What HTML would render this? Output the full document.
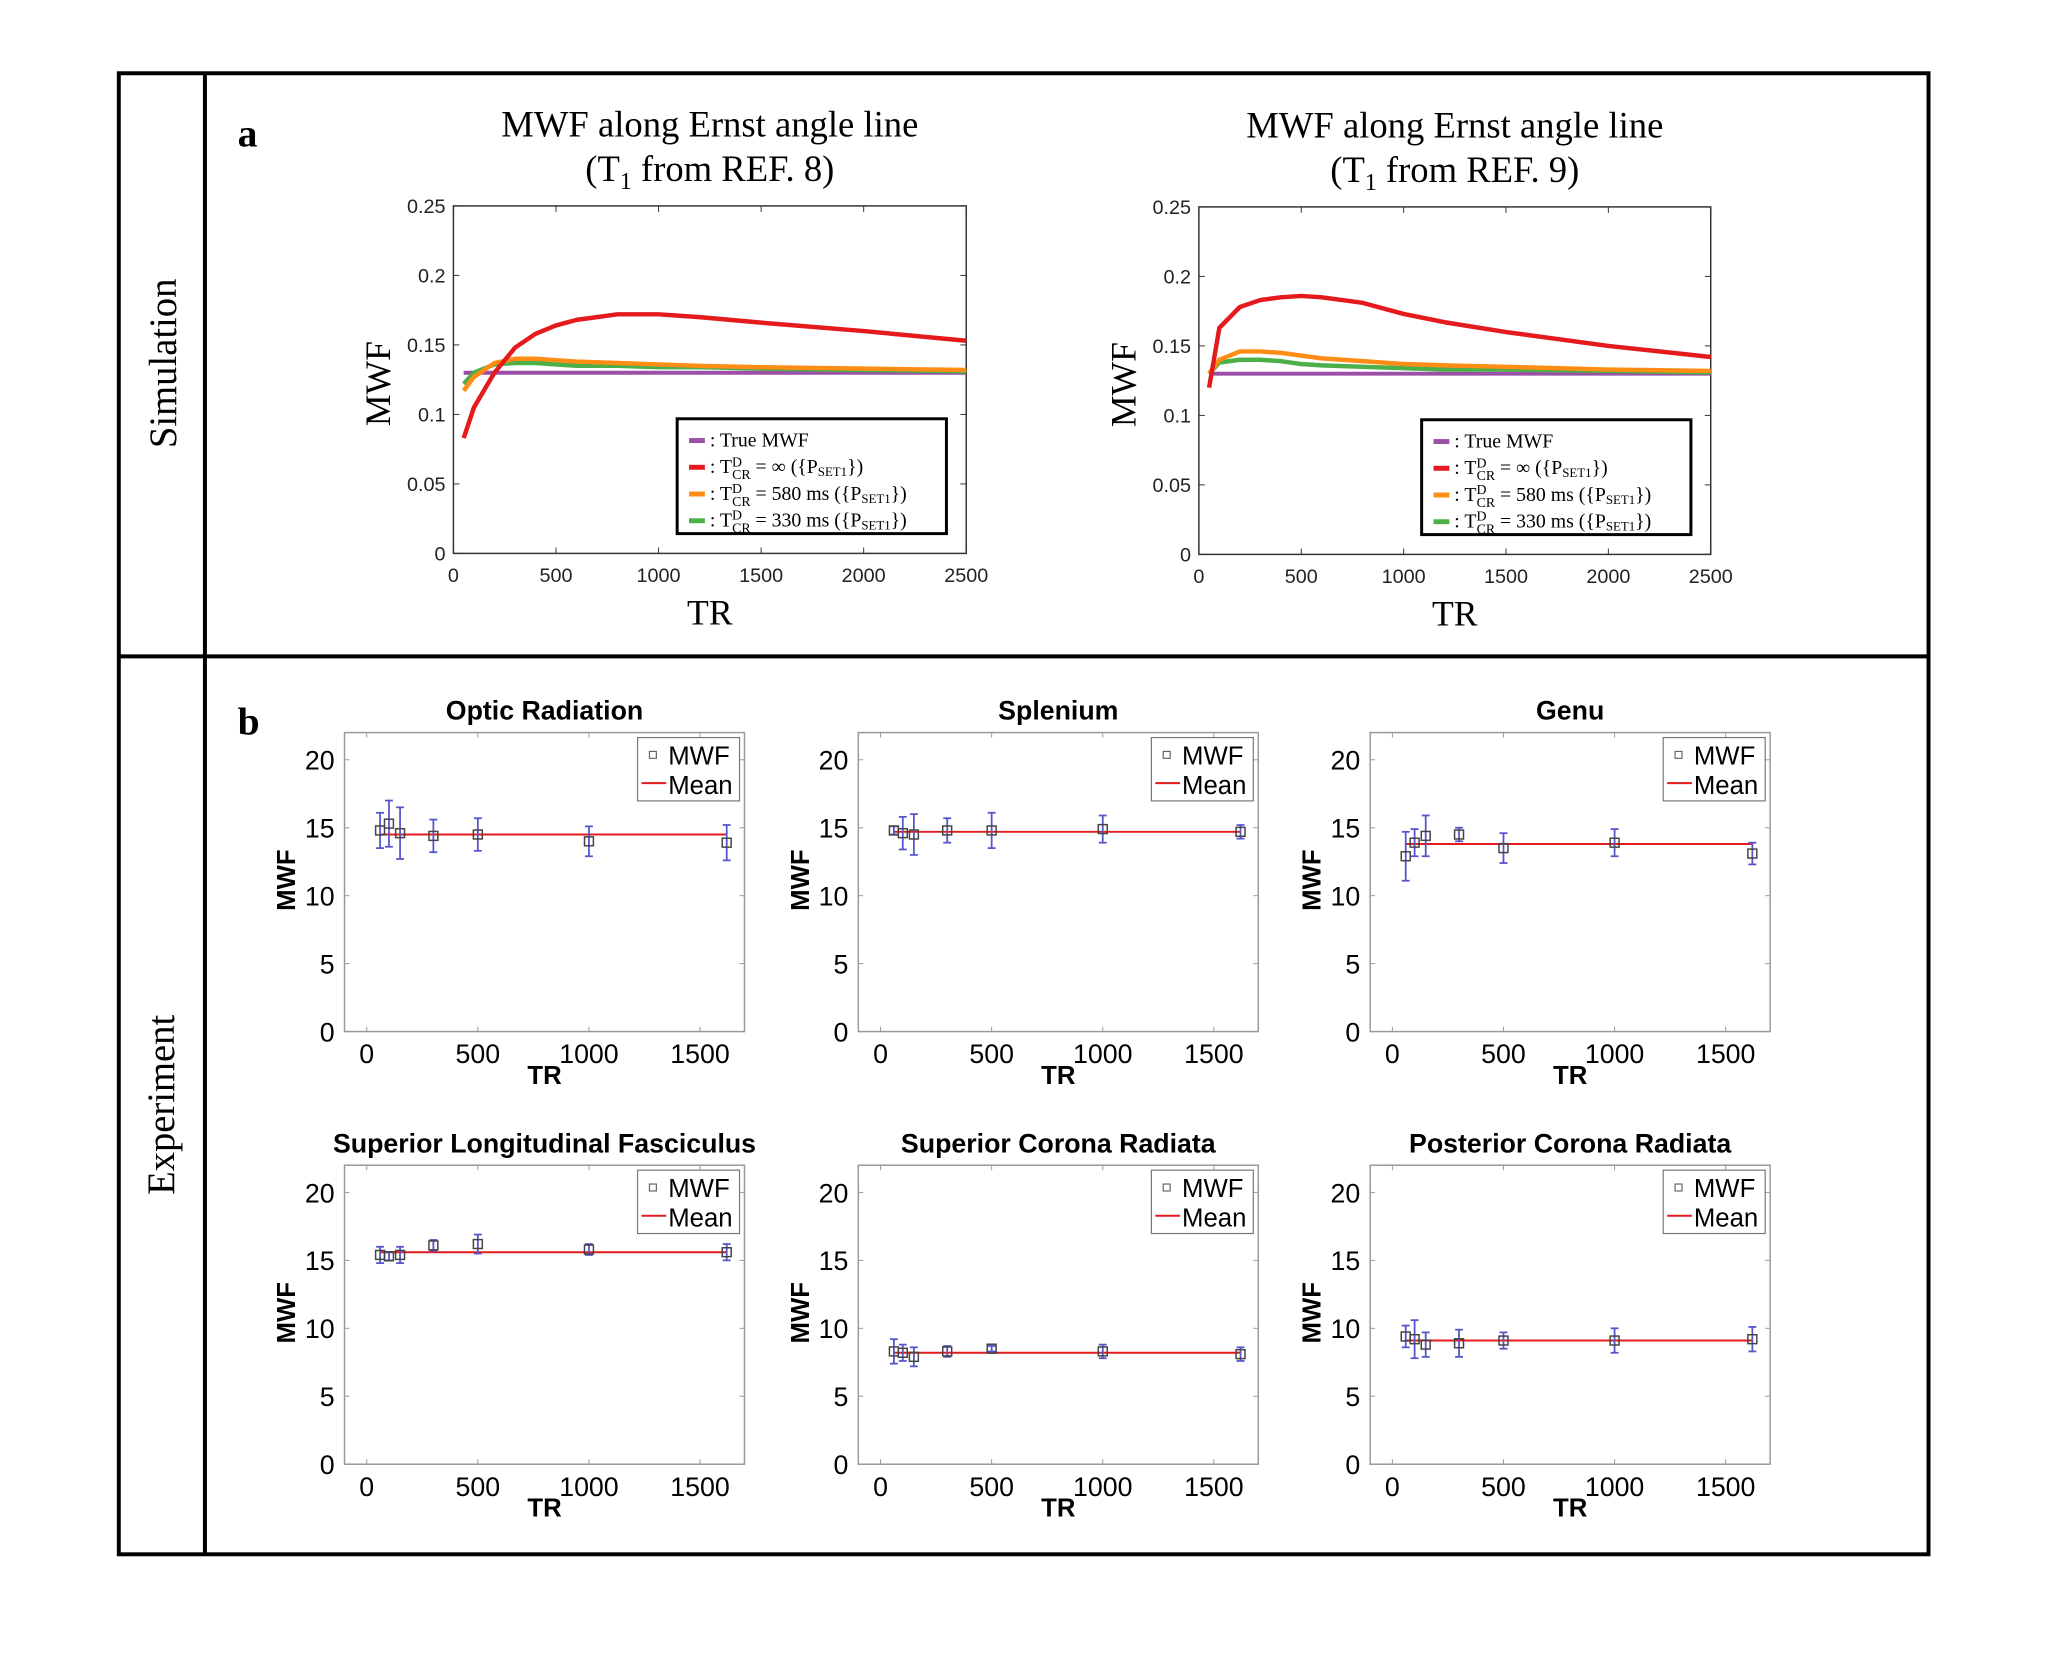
<!DOCTYPE html>
<html><head><meta charset="utf-8"><style>
html,body{margin:0;padding:0;background:#fff}
svg{display:block}
.serif{font-family:"Liberation Serif",serif}
.sans{font-family:"Liberation Sans",sans-serif}
</style></head><body>
<svg id="fig" width="2055" height="1665" viewBox="0 0 2055 1665" xmlns="http://www.w3.org/2000/svg">
<g transform="scale(0.99)">
<rect x="120" y="74" width="1828" height="1496" fill="none" stroke="#000" stroke-width="4"/>
<line x1="120" y1="663" x2="1948" y2="663" stroke="#000" stroke-width="4"/>
<line x1="207" y1="74" x2="207" y2="1570" stroke="#000" stroke-width="4"/>
<text class="serif" x="0" y="0" font-size="39" text-anchor="middle" transform="translate(178,367) rotate(-90)">Simulation</text>
<text class="serif" x="0" y="0" font-size="39" text-anchor="middle" transform="translate(176,1116) rotate(-90)">Experiment</text>
<text class="serif" x="240" y="148" font-size="40" font-weight="bold">a</text>
<text class="serif" x="240" y="742" font-size="40" font-weight="bold">b</text>
<g id="charts"></g>
</g>
</svg>
<script>
// ---- Panel a data ----
const simTR = [50, 100, 200, 300, 400, 500, 600, 800, 1000, 1200, 1500, 2000, 2500];
const a1Red    = [0.083, 0.105, 0.130, 0.148, 0.158, 0.164, 0.168, 0.172, 0.172, 0.170, 0.166, 0.160, 0.153];
const a1Orange = [0.117, 0.127, 0.137, 0.140, 0.140, 0.139, 0.138, 0.137, 0.136, 0.135, 0.134, 0.133, 0.132];
const a1Green  = [0.122, 0.130, 0.136, 0.137, 0.137, 0.136, 0.135, 0.135, 0.134, 0.134, 0.133, 0.132, 0.131];
const a2Red    = [0.120, 0.163, 0.178, 0.183, 0.185, 0.186, 0.185, 0.181, 0.173, 0.167, 0.160, 0.150, 0.142];
const a2Orange = [0.130, 0.140, 0.146, 0.146, 0.145, 0.143, 0.141, 0.139, 0.137, 0.136, 0.135, 0.133, 0.132];
const a2Green  = [0.130, 0.138, 0.140, 0.140, 0.139, 0.137, 0.136, 0.135, 0.134, 0.133, 0.133, 0.132, 0.131];
const trueMWF = 0.13;
const simXTicks = [0, 500, 1000, 1500, 2000, 2500];
const simYTicks = [0, 0.05, 0.1, 0.15, 0.2, 0.25];
const simYLabels = ["0", "0.05", "0.1", "0.15", "0.2", "0.25"];

// ---- Panel b data ----
const expTR = [60, 100, 150, 300, 500, 1000, 1620];
const expTitles = ["Optic Radiation", "Splenium", "Genu", "Superior Longitudinal Fasciculus", "Superior Corona Radiata", "Posterior Corona Radiata"];
const orVals = [14.8, 15.3, 14.6, 14.4, 14.5, 14.0, 13.9];
const orErr  = [1.3, 1.7, 1.9, 1.2, 1.2, 1.1, 1.3];
const spVals = [14.8, 14.6, 14.5, 14.8, 14.8, 14.9, 14.7];
const spErr  = [0.3, 1.2, 1.5, 0.9, 1.3, 1.0, 0.5];
const geVals = [12.9, 13.9, 14.4, 14.5, 13.5, 13.9, 13.1];
const geErr  = [1.8, 1.0, 1.5, 0.5, 1.1, 1.0, 0.8];
const slVals = [15.4, 15.3, 15.4, 16.1, 16.2, 15.8, 15.6];
const slErr  = [0.6, 0.3, 0.6, 0.4, 0.7, 0.4, 0.6];
const scVals = [8.3, 8.2, 7.9, 8.3, 8.5, 8.3, 8.1];
const scErr  = [0.9, 0.6, 0.7, 0.4, 0.2, 0.5, 0.5];
const pcVals = [9.4, 9.2, 8.8, 8.9, 9.1, 9.1, 9.2];
const pcErr  = [0.8, 1.4, 0.9, 1.0, 0.6, 0.9, 0.9];
const expMeans = [14.5, 14.7, 13.8, 15.6, 8.2, 9.1];
const expXTicks = [0, 500, 1000, 1500];
const expYTicks = [0, 5, 10, 15, 20];

const NS = "http://www.w3.org/2000/svg";
const root = document.getElementById("charts");
function mk(tag, attrs, parent, text) {
  const e = document.createElementNS(NS, tag);
  for (const k in attrs) e.setAttribute(k, attrs[k]);
  if (text !== undefined) e.textContent = text;
  (parent || root).appendChild(e);
  return e;
}

function simChart(px, py, pw, ph, title2, red, orange, green, idx) {
  const g = mk("g", {});
  
  
  const xs = v => px + (v / 2500) * pw;
  const ys = v => py + ph - (v / 0.25) * ph;
  const cx = px + pw / 2;
  const t1 = mk("text", {x: cx, y: py - 70, "font-size": 37, "text-anchor": "middle", class: "serif"}, g, "MWF along Ernst angle line");
  
  
  const t2 = mk("text", {x: cx, y: py - 25, "font-size": 37, "text-anchor": "middle", class: "serif"}, g);
  
  
  t2.innerHTML = '(T<tspan font-size="24" dy="8">1</tspan><tspan dy="-8"> from REF. ' + title2 + ')</tspan>';
  const box = mk("rect", {x: px, y: py, width: pw, height: ph, fill: "none", stroke: "#333", "stroke-width": 1.5}, g);
  
  
  simXTicks.forEach(v => {
    mk("line", {x1: xs(v), x2: xs(v), y1: py + ph, y2: py + ph - 6, stroke: "#333"}, g);
    mk("line", {x1: xs(v), x2: xs(v), y1: py, y2: py + 6, stroke: "#333"}, g);
    const t = mk("text", {x: xs(v), y: py + ph + 29, "font-size": 20, "text-anchor": "middle", class: "sans", fill: "#222"}, g, String(v));
    
    
  });
  simYTicks.forEach((v, i) => {
    mk("line", {x1: px, x2: px + 6, y1: ys(v), y2: ys(v), stroke: "#333"}, g);
    mk("line", {x1: px + pw, x2: px + pw - 6, y1: ys(v), y2: ys(v), stroke: "#333"}, g);
    const t = mk("text", {x: px - 8, y: ys(v) + 7, "font-size": 20, "text-anchor": "end", class: "sans", fill: "#222"}, g, simYLabels[i]);
    
    
  });
  const xl = mk("text", {x: cx, y: py + ph + 72, "font-size": 36, "text-anchor": "middle", class: "serif"}, g, "TR");
  
  
  const yl = mk("text", {x: 0, y: 0, "font-size": 36, "text-anchor": "middle", class: "serif", transform: "translate(" + (px - 64) + "," + (py + ph / 2 + 4) + ") rotate(-90)"}, g, "MWF");
  
  
  const tl = mk("line", {x1: xs(simTR[0]), x2: xs(2500), y1: ys(trueMWF), y2: ys(trueMWF), stroke: "#9b4fa6", "stroke-width": 4}, g);
  
  
  [[green, "#4caf48", "tcr-330-line"], [orange, "#ff8c14", "tcr-580-line"], [red, "#e41a1c", "tcr-inf-line"]].forEach(s => {
    const d = s[0].map((v, i) => (i ? "L" : "M") + xs(simTR[i]).toFixed(1) + "," + ys(v).toFixed(1)).join("");
    const p = mk("path", {d: d, fill: "none", stroke: s[1], "stroke-width": 4.5, "stroke-linejoin": "round"}, g);
    
    
  });
  const lx = px + pw - 292, ly = py + ph - 136;
  const lg = mk("g", {}, g);
  
  
  mk("rect", {x: lx, y: ly, width: 272, height: 116, fill: "#fff", stroke: "#000", "stroke-width": 3}, lg);
  const cols = ["#9b4fa6", "#e41a1c", "#ff8c14", "#4caf48"];
  const labs = [null, "= ∞ ({P", "= 580 ms ({P", "= 330 ms ({P"];
  for (let i = 0; i < 4; i++) {
    const yy = ly + 22 + i * 27;
    mk("line", {x1: lx + 12, x2: lx + 28, y1: yy, y2: yy, stroke: cols[i], "stroke-width": 5}, lg);
    const t = mk("text", {x: lx + 33, y: yy + 6, "font-size": 20, class: "serif"}, lg);
    
    
    if (i === 0) t.textContent = ": True MWF";
    else t.innerHTML = ': T<tspan font-size="14" dy="-7">D</tspan><tspan font-size="14" dx="-10" dy="13">CR</tspan><tspan dy="-6"> ' + labs[i] + '</tspan><tspan font-size="13" dy="3">SET1</tspan><tspan dy="-3">})</tspan>';
  }
}

simChart(458, 208, 518, 351, "8", a1Red, a1Orange, a1Green, 1);
simChart(1211, 209, 517, 351, "9", a2Red, a2Orange, a2Green, 2);

const expVals = [orVals, spVals, geVals, slVals, scVals, pcVals];
const expErrs = [orErr, spErr, geErr, slErr, scErr, pcErr];
const colX = [348, 867, 1384];
const rowY = [740, 1177];
function expChart(k) {
  const px = colX[k % 3], py = rowY[Math.floor(k / 3)], pw = 404, ph = 302;
  const g = mk("g", {});
  
  
  const xs = v => px + ((v + 100) / 1800) * pw;
  const ys = v => py + ph - (v / 22) * ph;
  const cx = px + pw / 2;
  const t = mk("text", {x: cx, y: py - 13, "font-size": 27, "font-weight": "bold", "text-anchor": "middle", class: "sans"}, g, expTitles[k]);
  
  
  const box = mk("rect", {x: px, y: py, width: pw, height: ph, fill: "none", stroke: "#999", "stroke-width": 1.5}, g);
  
  
  expXTicks.forEach(v => {
    mk("line", {x1: xs(v), x2: xs(v), y1: py + ph, y2: py + ph - 5, stroke: "#999"}, g);
    mk("line", {x1: xs(v), x2: xs(v), y1: py, y2: py + 5, stroke: "#999"}, g);
    const tt = mk("text", {x: xs(v), y: py + ph + 32, "font-size": 27, "text-anchor": "middle", class: "sans"}, g, String(v));
    
    
  });
  expYTicks.forEach(v => {
    mk("line", {x1: px, x2: px + 5, y1: ys(v), y2: ys(v), stroke: "#999"}, g);
    mk("line", {x1: px + pw, x2: px + pw - 5, y1: ys(v), y2: ys(v), stroke: "#999"}, g);
    const tt = mk("text", {x: px - 10, y: ys(v) + 10, "font-size": 27, "text-anchor": "end", class: "sans"}, g, String(v));
    
    
  });
  const xl = mk("text", {x: cx, y: py + ph + 53, "font-size": 26, "font-weight": "bold", "text-anchor": "middle", class: "sans"}, g, "TR");
  
  
  const yl = mk("text", {x: 0, y: 0, "font-size": 26, "font-weight": "bold", "text-anchor": "middle", class: "sans", transform: "translate(" + (px - 50) + "," + (py + ph / 2 - 2) + ") rotate(-90)"}, g, "MWF");
  
  
  const ml = mk("line", {x1: xs(expTR[0]), x2: xs(expTR[expTR.length - 1]), y1: ys(expMeans[k]), y2: ys(expMeans[k]), stroke: "#e41a1c", "stroke-width": 2}, g);
  
  
  expTR.forEach((tr, i) => {
    const v = expVals[k][i], e = expErrs[k][i], x = xs(tr);
    const eg = mk("g", {stroke: "#5555cc", "stroke-width": 1.8}, g);
    
    
    mk("line", {x1: x, x2: x, y1: ys(v + e), y2: ys(v - e)}, eg);
    mk("line", {x1: x - 4, x2: x + 4, y1: ys(v + e), y2: ys(v + e)}, eg);
    mk("line", {x1: x - 4, x2: x + 4, y1: ys(v - e), y2: ys(v - e)}, eg);
    const m = mk("rect", {x: x - 4.5, y: ys(v) - 4.5, width: 9, height: 9, fill: "none", stroke: "#444", "stroke-width": 1.5}, g);
    
    
  });
  const lg = mk("g", {}, g);
  
  
  const lx = px + pw - 108, ly = py + 5;
  mk("rect", {x: lx, y: ly, width: 103, height: 64, fill: "#fff", stroke: "#777", "stroke-width": 1.2}, lg);
  mk("rect", {x: lx + 12, y: ly + 14, width: 7, height: 7, fill: "none", stroke: "#666", "stroke-width": 1.2}, lg);
  const a = mk("text", {x: lx + 31, y: ly + 27, "font-size": 26, class: "sans"}, lg, "MWF");
  
  
  mk("line", {x1: lx + 4, x2: lx + 29, y1: ly + 46, y2: ly + 46, stroke: "#e41a1c", "stroke-width": 2}, lg);
  const b = mk("text", {x: lx + 31, y: ly + 57, "font-size": 26, class: "sans"}, lg, "Mean");
  
  
}
for (let k = 0; k < 6; k++) expChart(k);
</script>
</body></html>
